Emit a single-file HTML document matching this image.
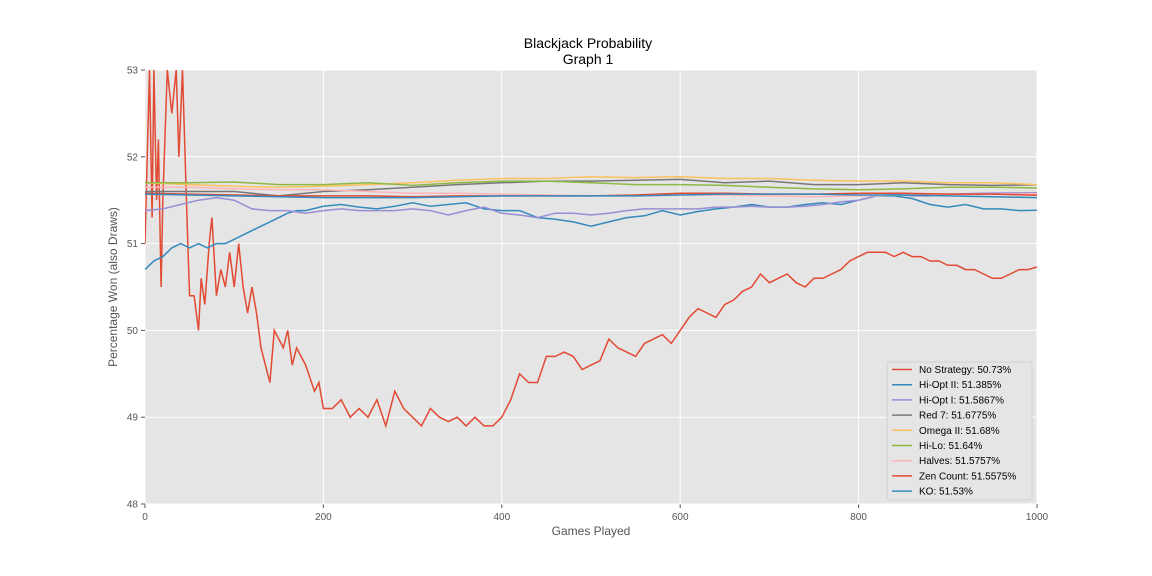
<!DOCTYPE html>
<html><head><meta charset="utf-8"><style>
body{margin:0;background:#fff;font-family:"Liberation Sans","DejaVu Sans",sans-serif;}
svg{display:block}
</style></head><body>
<svg id="chart" width="1152" height="576" xmlns="http://www.w3.org/2000/svg"></svg>
<script>
const xTicks=[0,200,400,600,800,1000];
const yTicks=[48,49,50,51,52,53];
const seriesNames=["No Strategy: 50.73%","Hi-Opt II: 51.385%","Hi-Opt I: 51.5867%","Red 7: 51.6775%","Omega II: 51.68%","Hi-Lo: 51.64%","Halves: 51.5757%","Zen Count: 51.5575%","KO: 51.53%"];
const noStrategyX=[0,5,8,10,13,15,18,20,25,30,35,38,42,45,48,50,55,60,63,67,72,75,80,85,90,95,100,105,110,115,120,125,130,135,140,145,150,155,160,165,170,180,190,195,200,210,220,230,240,250,260,270,280,290,300,310,320,330,340,350,360,370,380,390,400,410,420,430,440,450,460,470,480,490,500,510,520,530,540,550,560,570,580,590,600,610,620,630,640,650,660,670,680,690,700,710,720,730,740,750,760,770,780,790,800,810,820,830,840,850,860,870,880,890,900,910,920,930,940,950,960,970,980,990,1000];
const noStrategyY=[51.0,53,51.3,53,51.5,52.2,50.5,51.5,53,52.5,53,52,53,52,51.0,50.4,50.4,50.0,50.6,50.3,51.0,51.3,50.4,50.7,50.5,50.9,50.5,51.0,50.5,50.2,50.5,50.2,49.8,49.6,49.4,50.0,49.9,49.8,50.0,49.6,49.8,49.6,49.3,49.4,49.1,49.1,49.2,49.0,49.1,49.0,49.2,48.9,49.3,49.1,49.0,48.9,49.1,49.0,48.95,49.0,48.9,49.0,48.9,48.9,49.0,49.2,49.5,49.4,49.4,49.7,49.7,49.75,49.7,49.55,49.6,49.65,49.9,49.8,49.75,49.7,49.85,49.9,49.95,49.85,50.0,50.15,50.25,50.2,50.15,50.3,50.35,50.45,50.5,50.65,50.55,50.6,50.65,50.55,50.5,50.6,50.6,50.65,50.7,50.8,50.85,50.9,50.9,50.9,50.85,50.9,50.85,50.85,50.8,50.8,50.75,50.75,50.7,50.7,50.65,50.6,50.6,50.65,50.7,50.7,50.73];
const hiOpt2X=[0,10,20,30,40,50,60,70,80,90,100,110,120,130,140,150,160,170,180,200,220,240,260,280,300,320,340,360,380,400,420,440,460,480,500,520,540,560,580,600,620,640,660,680,700,720,740,760,780,800,820,840,860,880,900,920,940,960,980,1000];
const hiOpt2Y=[50.7,50.8,50.85,50.95,51.0,50.95,51.0,50.95,51.0,51.0,51.05,51.1,51.15,51.2,51.25,51.3,51.35,51.38,51.38,51.43,51.45,51.42,51.4,51.43,51.47,51.43,51.45,51.47,51.4,51.38,51.38,51.3,51.28,51.25,51.2,51.25,51.3,51.32,51.38,51.33,51.37,51.4,51.42,51.45,51.42,51.42,51.45,51.47,51.45,51.5,51.55,51.55,51.52,51.45,51.42,51.45,51.4,51.4,51.38,51.385];
const hiOpt1X=[0,20,40,60,80,100,120,140,160,180,200,220,240,260,280,300,320,340,360,380,400,420,440,460,480,500,520,540,560,580,600,620,640,660,680,700,720,740,760,780,800,820,840,860,880,900,940,1000];
const hiOpt1Y=[51.38,51.4,51.45,51.5,51.53,51.5,51.4,51.38,51.38,51.35,51.38,51.4,51.38,51.38,51.38,51.4,51.38,51.33,51.38,51.42,51.35,51.33,51.3,51.35,51.35,51.33,51.35,51.38,51.4,51.4,51.4,51.4,51.42,51.42,51.43,51.42,51.42,51.43,51.45,51.48,51.5,51.55,51.57,51.55,51.55,51.57,51.58,51.5867];
const flatX=[0,50,100,150,200,250,300,350,400,450,500,550,600,650,700,750,800,850,900,950,1000];
const red7Y=[51.6,51.6,51.6,51.55,51.6,51.62,51.65,51.68,51.7,51.72,51.72,51.73,51.74,51.7,51.72,51.68,51.68,51.7,51.68,51.67,51.6775];
const omega2Y=[51.7,51.68,51.66,51.65,51.66,51.68,51.7,51.73,51.75,51.75,51.77,51.76,51.77,51.75,51.75,51.73,51.72,51.72,51.7,51.7,51.68];
const hiLoY=[51.7,51.7,51.71,51.68,51.68,51.7,51.67,51.7,51.72,51.72,51.7,51.68,51.68,51.67,51.65,51.63,51.62,51.63,51.65,51.65,51.64];
const halvesY=[51.65,51.65,51.63,51.62,51.62,51.6,51.58,51.58,51.57,51.56,51.55,51.55,51.56,51.56,51.55,51.54,51.55,51.56,51.57,51.57,51.5757];
const zenY=[51.58,51.57,51.56,51.55,51.55,51.55,51.54,51.55,51.55,51.55,51.55,51.56,51.58,51.58,51.57,51.57,51.58,51.58,51.57,51.57,51.5575];
const koY=[51.57,51.56,51.55,51.54,51.53,51.53,51.53,51.54,51.55,51.55,51.55,51.55,51.56,51.57,51.57,51.57,51.56,51.56,51.55,51.54,51.53];
const colors=["#E24A33","#348ABD","#988ED5","#777777","#FBC15E","#8EBA42","#FFB5B8","#E24A33","#348ABD"];
const series=[[noStrategyX,noStrategyY],[hiOpt2X,hiOpt2Y],[hiOpt1X,hiOpt1Y],[flatX,red7Y],[flatX,omega2Y],[flatX,hiLoY],[flatX,halvesY],[flatX,zenY],[flatX,koY]];

const L=145,R=1037,T=70,B=504;
const xs=v=>L+(v-0)/1000*(R-L);
const ys=v=>B-(v-48)/5*(B-T);
const svg=document.getElementById('chart');
const NS="http://www.w3.org/2000/svg";
function mk(tag,attrs,parent){const e=document.createElementNS(NS,tag);for(const k in attrs)e.setAttribute(k,attrs[k]);(parent||svg).appendChild(e);return e;}
const bg=mk('rect',{x:L,y:T,width:R-L,height:B-T,fill:'#E5E5E5'});


xTicks.forEach(t=>{
  const g=mk('line',{x1:xs(t),x2:xs(t),y1:T,y2:B,stroke:'#fff','stroke-width':1});
  
  
  mk('line',{x1:xs(t),x2:xs(t),y1:B,y2:B+4,stroke:'#555'});
  const tx=mk('text',{x:xs(t),y:B+16,'text-anchor':'middle','font-size':10,fill:'#555'});
  tx.textContent=t;
  
  
});
yTicks.forEach(t=>{
  const g=mk('line',{x1:L,x2:R,y1:ys(t),y2:ys(t),stroke:'#fff','stroke-width':1});
  
  
  mk('line',{x1:L-4,x2:L,y1:ys(t),y2:ys(t),stroke:'#555'});
  const tx=mk('text',{x:L-7,y:ys(t)+3.5,'text-anchor':'end','font-size':10,fill:'#555'});
  tx.textContent=t;
  
  
});
const clip=mk('clipPath',{id:'clp'});mk('rect',{x:L,y:T,width:R-L,height:B-T},clip);
series.forEach((s,i)=>{
  const d=s[0].map((x,j)=>(j?'L':'M')+xs(x).toFixed(1)+','+ys(s[1][j]).toFixed(1)).join('');
  const p=mk('path',{d:d,fill:'none',stroke:colors[i],'stroke-width':1.5,'clip-path':'url(#clp)'});
  
  
});
// legend
const lg=mk('g',{});


mk('rect',{x:887,y:362,width:145,height:138,fill:'#E5E5E5',stroke:'#ccc','stroke-opacity':0.8,rx:2},lg);
seriesNames.forEach((n,i)=>{
  const y=369.5+i*15.2;
  mk('line',{x1:892,x2:912,y1:y,y2:y,stroke:colors[i],'stroke-width':1.5},lg);
  const t=mk('text',{x:919,y:y+3.5,'font-size':10,fill:'#000'},lg);
  t.textContent=n;
  
  
});
const t1=mk('text',{x:588,y:48,'text-anchor':'middle','font-size':14,fill:'#000'});t1.textContent='Blackjack Probability';


const t2=mk('text',{x:588,y:64,'text-anchor':'middle','font-size':14,fill:'#000'});t2.textContent='Graph 1';


const xl=mk('text',{x:591,y:535,'text-anchor':'middle','font-size':12,fill:'#555'});xl.textContent='Games Played';


const yl=mk('text',{x:0,y:0,'text-anchor':'middle','font-size':12,fill:'#555',transform:'translate(117,287) rotate(-90)'});yl.textContent='Percentage Won (also Draws)';


</script>
</body></html>
